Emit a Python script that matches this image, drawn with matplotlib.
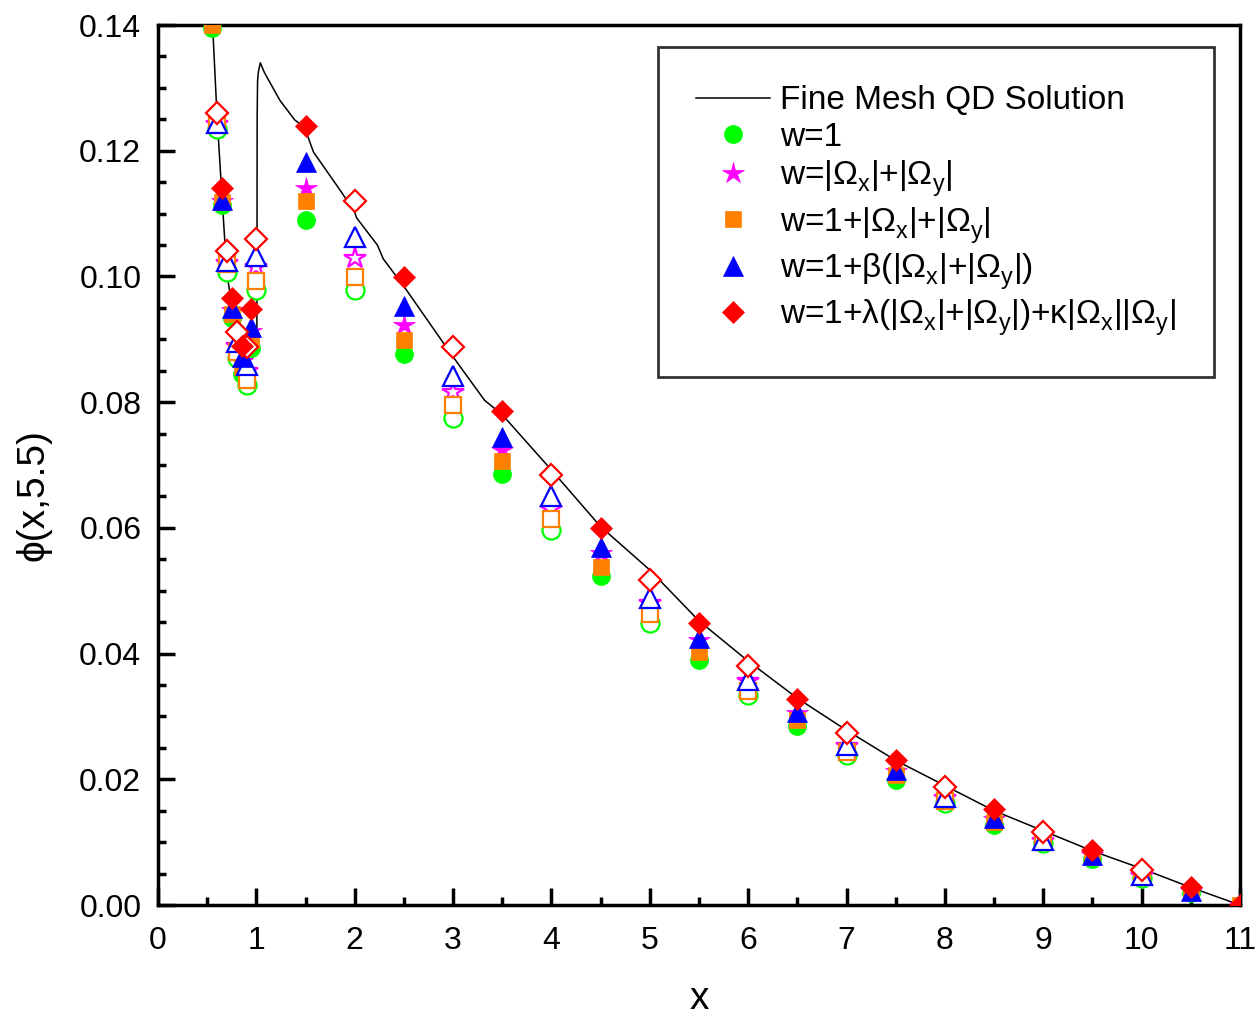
import matplotlib.pyplot as plt
from matplotlib.ticker import MultipleLocator, FormatStrFormatter

plt.rcParams['font.family'] = ['Liberation Sans', 'DejaVu Sans']
plt.rcParams['mathtext.fontset'] = 'custom'
plt.rcParams['mathtext.rm'] = 'Liberation Sans'
plt.rcParams['mathtext.it'] = 'Liberation Sans'

# push subscripts a bit lower, like the original
try:
    from matplotlib import _mathtext
    _mathtext.FontConstantsBase.sub1 = 0.42
    _mathtext.FontConstantsBase.sub2 = 0.55
except Exception:
    pass

# fine mesh reference curve
line_x = [0.54, 0.555, 0.60, 0.65, 0.70, 0.725, 0.75, 0.80, 0.85, 0.90, 0.95, 1.005,
          1.008, 1.012, 1.02, 1.04, 1.08, 1.14, 1.24, 1.39, 1.50, 1.525, 1.58, 1.87,
          2.00, 2.02, 2.23, 2.29, 2.51, 3.00, 3.32, 3.50, 4.00, 4.50, 5.00, 5.50,
          6.00, 6.50, 7.00, 7.50, 8.00, 8.50, 9.00, 9.50, 10.00, 10.50, 11.00]
line_y = [0.1445, 0.1400, 0.1255, 0.1128, 0.1005, 0.0980, 0.0955, 0.0910, 0.0880, 0.0866, 0.0868, 0.0880,
          0.1250, 0.1310, 0.1325, 0.1340, 0.1325, 0.1308, 0.1280, 0.1249, 0.1236, 0.1222, 0.1198, 0.1133,
          0.1102, 0.1093, 0.1050, 0.1028, 0.0982, 0.0872, 0.0803, 0.0780, 0.0692, 0.0602, 0.0533, 0.0452,
          0.0388, 0.0329, 0.0278, 0.0230, 0.0190, 0.0150, 0.0118, 0.0086, 0.0058, 0.0028, 0.0]

# coarse mesh: cell centres (filled) and cell edges (open)
x_center = [0.55, 0.65, 0.75, 0.85, 0.95, 1.5, 2.5, 3.5, 4.5, 5.5, 6.5, 7.5, 8.5, 9.5, 10.5, 11.0]
x_edge = [0.6, 0.7, 0.8, 0.9, 1.0, 2, 3, 4, 5, 6, 7, 8, 9, 10]

circle_c = [0.1395, 0.1114, 0.0934, 0.0845, 0.0886, 0.1090, 0.0877, 0.0686, 0.0523, 0.0390, 0.0285, 0.0199, 0.0127, 0.0073, 0.0019, 0.0]
star_c = [0.1415, 0.1120, 0.0946, 0.0866, 0.0913, 0.1141, 0.0923, 0.0724, 0.0560, 0.0421, 0.0305, 0.0213, 0.0137, 0.0079, 0.0022, 0.0]
square_c = [0.1400, 0.1118, 0.0941, 0.0856, 0.0899, 0.1120, 0.0899, 0.0706, 0.0538, 0.0403, 0.0294, 0.0207, 0.0132, 0.0076, 0.0021, 0.0]
tri_c = [0.1420, 0.1122, 0.0950, 0.0872, 0.0920, 0.1182, 0.0953, 0.0745, 0.0570, 0.0425, 0.0307, 0.0215, 0.0138, 0.0080, 0.0023, 0.0]
dia_c = [0.1445, 0.1140, 0.0966, 0.0889, 0.0948, 0.1239, 0.0999, 0.0786, 0.0600, 0.0449, 0.0328, 0.0231, 0.0153, 0.0087, 0.0029, 0.0]

circle_e = [0.1234, 0.1007, 0.0870, 0.0827, 0.0978, 0.0978, 0.0775, 0.0597, 0.0449, 0.0334, 0.0239, 0.0162, 0.0099, 0.0043]
star_e = [0.1242, 0.1022, 0.0890, 0.0850, 0.1015, 0.1029, 0.0816, 0.0630, 0.0480, 0.0357, 0.0253, 0.0171, 0.0102, 0.0046]
square_e = [0.1241, 0.1020, 0.0880, 0.0835, 0.0993, 0.0999, 0.0795, 0.0614, 0.0463, 0.0340, 0.0243, 0.0165, 0.0100, 0.0046]
tri_e = [0.1244, 0.1025, 0.0896, 0.0859, 0.1032, 0.1063, 0.0842, 0.0651, 0.0488, 0.0358, 0.0255, 0.0172, 0.0103, 0.0047]
dia_e = [0.1260, 0.1040, 0.0912, 0.0888, 0.1060, 0.1120, 0.0888, 0.0684, 0.0517, 0.0380, 0.0274, 0.0188, 0.0116, 0.0056]

labels = ['w=1',
          r'w=|Ω$_\mathregular{x}$|+|Ω$_\mathregular{y}$|',
          r'w=1+|Ω$_\mathregular{x}$|+|Ω$_\mathregular{y}$|',
          r'w=1+β(|Ω$_\mathregular{x}$|+|Ω$_\mathregular{y}$|)',
          r'w=1+λ(|Ω$_\mathregular{x}$|+|Ω$_\mathregular{y}$|)+κ|Ω$_\mathregular{x}$||Ω$_\mathregular{y}$|']
colors = ['#00ff00', '#ff00ff', '#ff8000', '#0000ff', '#ff0000']
markers = ['o', '*', 's', '^', 'D']
msizes = [13, 16, 11.5, 14.5, 11.5]
centers = [circle_c, star_c, square_c, tri_c, dia_c]
edges = [circle_e, star_e, square_e, tri_e, dia_e]

fig = plt.figure(figsize=(12.59, 10.21), dpi=100)
ax = fig.add_axes([0.1255, 0.1136, 0.8594, 0.8619])

ax.plot(line_x, line_y, color='black', lw=1.1, label='Fine Mesh QD Solution', zorder=2)

for lab, c, m, ms, yc, ye in zip(labels, colors, markers, msizes, centers, edges):
    ax.plot(x_edge, ye, ls='none', marker=m, ms=ms, mfc='white', mec=c, mew=1.6,
            label='_nolegend_', zorder=3)
    ax.plot(x_center, yc, ls='none', marker=m, ms=ms, mfc=c, mec=c, mew=0.5,
            label=lab, zorder=3)

ax.set_xlim(0, 11)
ax.set_ylim(0, 0.14)
ax.xaxis.set_major_locator(MultipleLocator(1))
ax.xaxis.set_minor_locator(MultipleLocator(0.5))
ax.yaxis.set_major_locator(MultipleLocator(0.02))
ax.yaxis.set_minor_locator(MultipleLocator(0.005))
ax.yaxis.set_major_formatter(FormatStrFormatter('%.2f'))
ax.tick_params(which='both', direction='in', width=2.5, top=False, right=False)
ax.tick_params(which='major', length=12, labelsize=23)
ax.tick_params(axis='x', which='major', pad=15)
ax.tick_params(axis='y', which='major', pad=12)
ax.tick_params(which='minor', length=6)
for sp in ax.spines.values():
    sp.set_linewidth(2.5)

ax.set_xlabel('x', fontsize=28, labelpad=18)
ax.set_ylabel('ϕ(x,5.5)', fontsize=28)
ax.yaxis.set_label_coords(-0.098, 0.466)

leg = ax.legend(loc='upper right', bbox_to_anchor=(0.976, 0.975), borderaxespad=0,
                fontsize=24, frameon=True, fancybox=False, borderpad=1.15,
                labelspacing=0.17, handlelength=2.2, handletextpad=0.3)
leg.get_frame().set_edgecolor('black')
leg.get_frame().set_linewidth(2)

fig.savefig('out.png', dpi=100)
